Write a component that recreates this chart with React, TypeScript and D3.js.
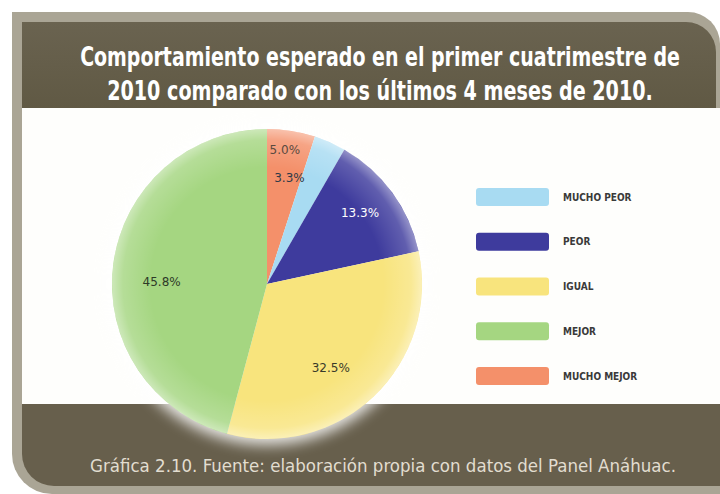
import React, { useLayoutEffect, useRef, useState } from "react";
import * as d3 from "d3";

const categories = ["MUCHO PEOR", "PEOR", "IGUAL", "MEJOR", "MUCHO MEJOR"];
const values = [3.3, 13.3, 32.5, 45.8, 5.0];
const colors = ["#a8dbf2", "#3e3b9d", "#f8e47d", "#a5d681", "#f4906a"];
// order of slices clockwise from 12 o'clock (indices into categories)
const pieOrder = [4, 0, 1, 2, 3];
const titleLines = [
  "Comportamiento esperado en el primer cuatrimestre de",
  "2010 comparado con los últimos 4 meses de 2010.",
];
const caption = "Gráfica 2.10. Fuente: elaboración propia con datos del Panel Anáhuac.";

// label placement tweaks (radius factor, angle shift in degrees) per pie slice
const labelTweaks: [number, number][] = [
  [0.87, -1.4],
  [0.7, -12],
  [0.755, -1.2],
  [0.68, 6.4],
  [0.68, -6.5],
];
const labelColors = ["#5a4a40", "#2f3a48", "#ffffff", "#3a3a2a", "#2e3a28"];

const W = 720;
const H = 494;
const cx = 267;
const cy = 284;
const R = 155;

function FitText(props: {
  x: number;
  y: number;
  width: number;
  text: string;
  fontSize: number;
  fontFamily: string;
  fontWeight?: string;
  fill: string;
}) {
  const ref = useRef<SVGTextElement>(null);
  const [s, setS] = useState(1);
  useLayoutEffect(() => {
    if (ref.current) {
      const w = ref.current.getComputedTextLength();
      if (w > 0) setS(props.width / w);
    }
  }, [props.text, props.width]);
  return (
    <g transform={`translate(${props.x},${props.y}) scale(${s},1)`}>
      <text
        ref={ref}
        x={0}
        y={0}
        textAnchor="middle"
        fill={props.fill}
        fontFamily={props.fontFamily}
        fontWeight={props.fontWeight}
        fontSize={props.fontSize}
      >
        {props.text}
      </text>
    </g>
  );
}

export default function App() {
  const pieData = pieOrder.map((i) => ({ i, v: values[i] }));
  const arcs = d3
    .pie<{ i: number; v: number }>()
    .sort(null)
    .value((d) => d.v)(pieData);
  const arcGen = d3.arc<d3.PieArcDatum<{ i: number; v: number }>>().innerRadius(0).outerRadius(R);
  const fmt = d3.format(".1f");
  const legendY = d3.scalePoint<string>().domain(categories).range([197, 376]);

  const framePath = `M12,12 H688 A32,32 0 0 1 720,44 V494 H52 A40,40 0 0 1 12,454 Z`;
  const topBand = `M22,22 H686 A30,30 0 0 1 716,52 V108 H22 Z`;
  const bottomBand = `M22,404 H720 V486 H54 A32,32 0 0 1 22,454 Z`;

  return (
    <svg
      width={W}
      height={H}
      style={{ position: "absolute", left: 0, top: 0, display: "block" }}
      viewBox={`0 0 ${W} ${H}`}
    >
      <defs>
        <filter id="glow" x="-30%" y="-30%" width="160%" height="160%">
          <feGaussianBlur stdDeviation="7" />
        </filter>
        <radialGradient id="edge" cx="50%" cy="50%" r="50%">
          <stop offset="0.75" stopColor="#ffffff" stopOpacity="0" />
          <stop offset="0.93" stopColor="#ffffff" stopOpacity="0.18" />
          <stop offset="1" stopColor="#ffffff" stopOpacity="0.45" />
        </radialGradient>
        <linearGradient id="bandGrad" x1="0" y1="0" x2="0" y2="1">
          <stop offset="0" stopColor="#6a6350" />
          <stop offset="1" stopColor="#605944" />
        </linearGradient>
      </defs>
      <rect x={0} y={0} width={W} height={H} fill="#ffffff" />
      <path d={framePath} fill="#aaa595" />
      <rect x={22} y={108} width={698} height={296} fill="#fefefc" />
      <path d={topBand} fill="url(#bandGrad)" />
      <path d={bottomBand} fill="#675f4c" />

      {titleLines.map((t, k) => (
        <FitText
          key={k}
          x={380}
          y={66 + k * 34}
          width={k === 0 ? 600 : 546}
          text={t}
          fill="#ffffff"
          fontFamily="'DejaVu Sans Condensed', 'DejaVu Sans', sans-serif"
          fontWeight="bold"
          fontSize={27}
        />
      ))}

      <FitText
        x={383}
        y={472}
        width={586}
        text={caption}
        fill="#e2ddd0"
        fontFamily="'DejaVu Sans Condensed', 'DejaVu Sans', sans-serif"
        fontSize={18}
      />

      <g transform={`translate(${cx},${cy})`}>
        <circle r={R + 6} fill="#ffffff" opacity={0.85} filter="url(#glow)" />
        {arcs.map((a, k) => (
          <path key={k} d={arcGen(a) || ""} fill={colors[a.data.i]} />
        ))}
        <circle r={R} fill="url(#edge)" />
        {arcs.map((a, k) => {
          const [f, shift] = labelTweaks[k];
          const mid = (a.startAngle + a.endAngle) / 2 + (shift * Math.PI) / 180;
          const rr = R * f;
          const x = rr * Math.sin(mid);
          const y = -rr * Math.cos(mid);
          return (
            <text
              key={"l" + k}
              x={x}
              y={y}
              textAnchor="middle"
              dominantBaseline="central"
              fontFamily="'DejaVu Sans', Verdana, sans-serif"
              fontSize={12}
              fill={labelColors[k]}
            >
              {fmt(a.data.v) + "%"}
            </text>
          );
        })}
      </g>

      {categories.map((c, i) => (
        <g key={c} transform={`translate(0,${legendY(c)})`}>
          <rect x={476} y={-9} width={73} height={18} rx={3} fill={colors[i]} />
          <text
            x={563}
            y={0}
            dominantBaseline="central"
            fontFamily="'DejaVu Sans Condensed', 'Liberation Sans Narrow', sans-serif"
            fontWeight="bold"
            fontSize={10}
            fill="#3a3a3a"
          >
            {c}
          </text>
        </g>
      ))}
    </svg>
  );
}
